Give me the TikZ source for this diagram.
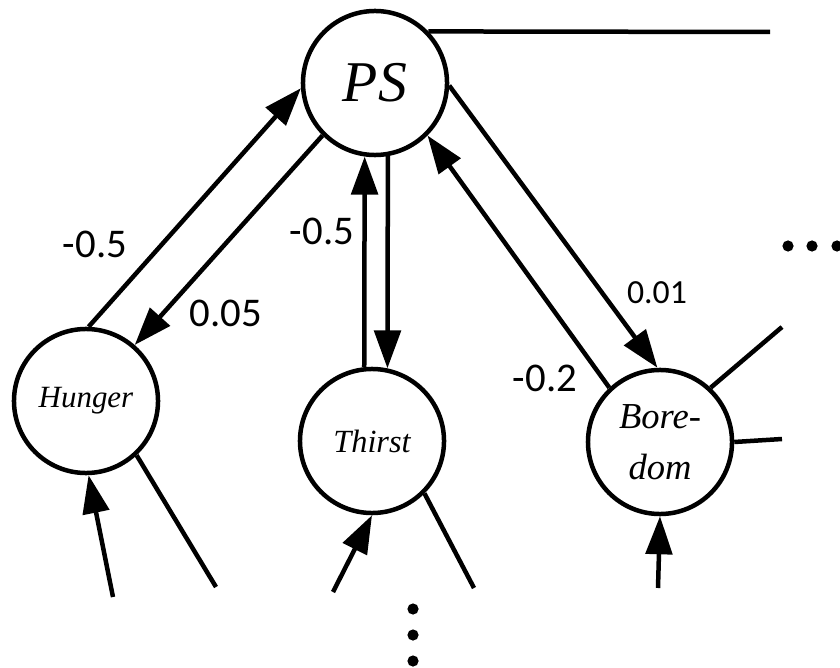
\documentclass[tikz,border=0pt]{standalone}
\usepackage{fontspec}
\setmainfont{Liberation Serif}
\newfontfamily\numfont{Carlito}
\usetikzlibrary{arrows.meta}

\begin{document}
\begin{tikzpicture}[x=0.025cm,y=-0.025cm,>={Triangle[length=0.95cm,width=0.66cm]},
      drive/.style={circle,draw,line width=3.2pt,minimum size=3.6cm,inner sep=0pt}]
				  \useasboundingbox (0,0) rectangle (840,668);
				  \node[drive,font=\itshape\fontsize{41}{48}\selectfont]  (PS) at (375,83)  {PS};
				  \node[drive,font=\itshape\fontsize{22}{26}\selectfont]  (hunger) at (86,401)  {Hunger};
				  \node[drive,font=\itshape\fontsize{23}{27}\selectfont]  (thirst) at (372,441) {Thirst};
				  \node[drive,font=\itshape\fontsize{26}{36}\selectfont,align=center] (boredom) at (660,442) {Bore-\\dom};

				  % loose ends of the network
				  \coordinate (out)  at (770,32);
				  \coordinate (hin)  at (113,597);
				  \coordinate (hout) at (216,587);
				  \coordinate (tin)  at (333,592);
				  \coordinate (tout) at (474,588);
				  \coordinate (bin)  at (658,588);
				  \coordinate (bo1)  at (782,327);
				  \coordinate (bo2)  at (782,439);

				\tikzset{link/.style={->,line width=3.2pt}}
				\tikzset{line/.style={-,line width=3.2pt}}
				\tikzset{wt/.style={inner sep=0pt,font=\numfont\fontsize{29}{34}\selectfont}}
				\path (hunger.88)  edge [link] (PS.184)
					  (PS.225)     edge [link] (hunger.49)
					  (thirst.96)  edge [link] (PS.262)
					  (PS.280)     edge [link] (thirst.78)
					  (boredom.133) edge [link] (PS.315)
					  (PS.358)     edge [link] (boredom.92)
					  (PS.44)      edge [line] (out)
					  (hin)        edge [link] (hunger.272)
					  (hunger.313) edge [line] (hout)
					  (tin)        edge [link] (thirst.270)
					  (thirst.315) edge [line] (tout)
					  (bin)        edge [link] (boredom.270)
					  (boredom.47) edge [line] (bo1)
					  (boredom.0)  edge [line] (bo2);

				  \node[wt] (w1) at (95,244)  {-0.5};
				  \node[wt] (w2) at (226,313) {0.05};
				  \node[wt] (w3) at (322,231) {-0.5};
				  \node[wt] (w4) at (545,378) {-0.2};
				  \node[wt,font=\numfont\fontsize{24}{28}\selectfont] (w5) at (657,293) {0.01};

				  % more drives below and to the right
				  \foreach \y in {609,635,661} \fill (413,\y) circle [radius=0.14cm];
				  \foreach \x in {788,812,837} \fill (\x,246) circle [radius=0.14cm];
			\end{tikzpicture}
\end{document}
